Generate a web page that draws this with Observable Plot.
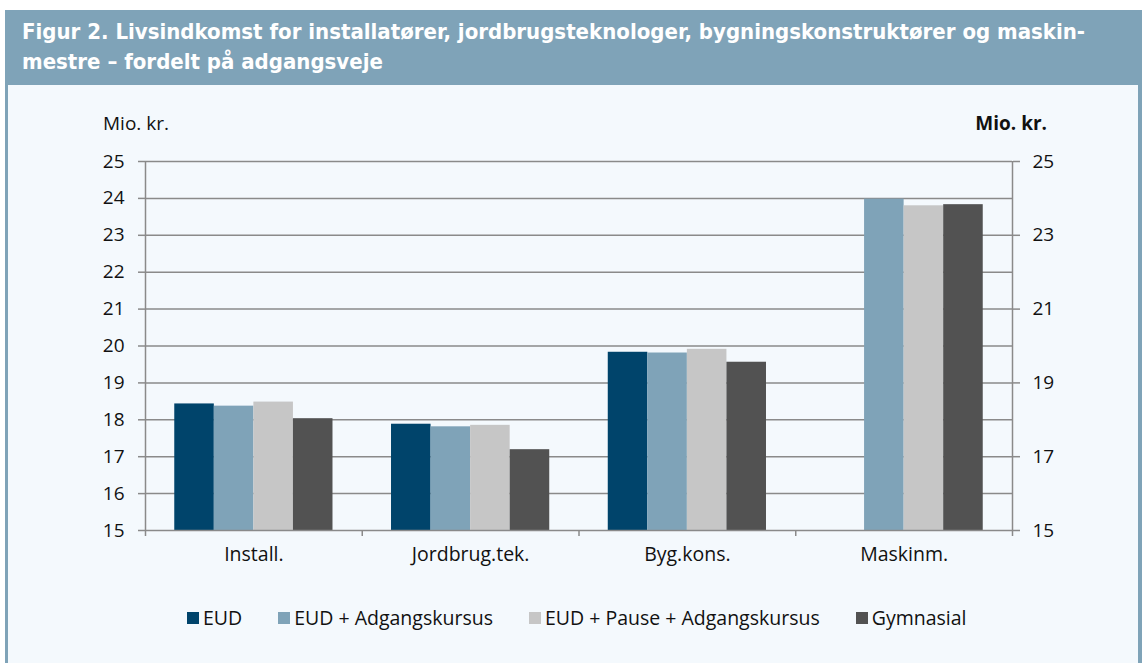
<!DOCTYPE html>
<html>
<head>
<meta charset="utf-8">
<script src="https://cdn.jsdelivr.net/npm/d3@7"></script>
<script src="https://cdn.jsdelivr.net/npm/@observablehq/plot@0.6"></script>
<style>
  html, body { margin: 0; padding: 0; background: #ffffff; }
  #page { position: relative; width: 1142px; height: 663px; overflow: hidden; font-family: "Open Sans", "Noto Sans", sans-serif; }
  #header { position: absolute; left: 5px; top: 10px; width: 1137px; height: 75px; background: #7fa3b8; }
  #title { position: absolute; left: 22px; top: 17px; color: #ffffff; font-family: "DejaVu Sans Condensed", sans-serif; font-stretch: condensed; font-weight: bold; font-size: 22px; line-height: 30px; white-space: nowrap; }
  #body { position: absolute; left: 5px; top: 85px; width: 1130px; height: 578px; background: #f4f9fd; border-left: 3px solid #7fa3b8; border-right: 4px solid #7fa3b8; }
  #chart { position: absolute; left: 0; top: 140px; }
  .ylab { position: absolute; top: 110px; font-size: 19px; color: #111; white-space: nowrap; }
  #legend { position: absolute; left: 187px; top: 604px; display: flex; gap: 36px; font-size: 19.5px; color: #111; white-space: nowrap; }
  .item { display: flex; align-items: center; }
  .sw { width: 12px; height: 12px; margin-right: 4px; }
</style>
</head>
<body>
<div id="page">
  <div id="header"></div>
  <div id="body"></div>
  <div id="title">Figur 2. Livsindkomst for installatører, jordbrugsteknologer, bygningskonstruktører og maskin-<br>mestre – fordelt på adgangsveje</div>
  <div class="ylab" style="left:103px;">Mio. kr.</div>
  <div class="ylab" style="right:95px; font-weight:bold;">Mio. kr.</div>
  <div id="chart"></div>
  <div id="legend"></div>
</div>
<script>
const categories = ["Install.", "Jordbrug.tek.", "Byg.kons.", "Maskinm."];
const series = ["EUD", "EUD + Adgangskursus", "EUD + Pause + Adgangskursus", "Gymnasial"];
const colors = ["#00446b", "#7fa3b8", "#c6c6c6", "#525252"];
const eud          = [18.43, 17.88, 19.83, null];
const eudAdg       = [18.37, 17.81, 19.81, 23.98];
const eudPauseAdg  = [18.48, 17.85, 19.91, 23.80];
const gymnasial    = [18.03, 17.19, 19.56, 23.83];
const yTicksLeft = [15, 16, 17, 18, 19, 20, 21, 22, 23, 24, 25];
const yTicksRight = [15, 17, 19, 21, 23, 25];

const values = [eud, eudAdg, eudPauseAdg, gymnasial];
const groupWidth = 0.73;
const barW = groupWidth / series.length;
const rows = [];
categories.forEach((c, i) => {
  series.forEach((s, j) => {
    const v = values[j][i];
    if (v == null) return;
    const x1 = i + (1 - groupWidth) / 2 + j * barW;
    rows.push({category: c, series: s, value: v, x1, x2: x1 + barW});
  });
});

const grey = "#8a8a8a";
const fs = 19;
const chart = Plot.plot({
  width: 1142,
  height: 435,
  marginLeft: 145,
  marginRight: 130,
  marginTop: 21,
  marginBottom: 45,
  style: {background: "transparent", fontFamily: "'Open Sans', 'Noto Sans', sans-serif", fontSize: fs + "px", color: "#111"},
  x: {type: "linear", domain: [0, categories.length], axis: null},
  y: {domain: [15, 25], axis: null},
  color: {domain: series, range: colors},
  marks: [
    Plot.gridY(yTicksLeft.slice(1), {stroke: grey, strokeOpacity: 1, strokeWidth: 1.5}),
    Plot.rectY(rows, {x1: "x1", x2: "x2", y1: 15, y2: "value", fill: "series"}),
    Plot.ruleY([15], {stroke: grey, strokeWidth: 1.5}),
    Plot.ruleX([0, categories.length], {y1: 15, y2: 25, stroke: grey, strokeWidth: 1.5}),
    Plot.axisX({ticks: d3.range(0, categories.length + 1), tickSize: 6, tickFormat: () => "", label: null, stroke: grey, strokeWidth: 1.5, strokeOpacity: 1}),
    Plot.axisX({ticks: categories.map((c, i) => i + 0.5), tickSize: 0, tickPadding: 17, label: null, tickFormat: d => categories[Math.floor(d)], fontSize: 19.5, fill: "#111"}),
    Plot.axisY({anchor: "left", ticks: yTicksLeft, tickSize: 7, tickPadding: 14, label: null, stroke: grey, strokeWidth: 1.5, strokeOpacity: 1, fontSize: fs, fill: "#111"}),
    Plot.axisY({anchor: "right", ticks: yTicksRight, tickSize: 7, tickPadding: 13, label: null, stroke: grey, strokeWidth: 1.5, strokeOpacity: 1, fontSize: fs, fill: "#111"})
  ]
});
document.getElementById("chart").appendChild(chart);

const legend = document.getElementById("legend");
series.forEach((s, j) => {
  const it = document.createElement("div");
  it.className = "item";
  const sw = document.createElement("span");
  sw.className = "sw";
  sw.style.background = colors[j];
  const t = document.createElement("span");
  t.textContent = s;
  it.appendChild(sw);
  it.appendChild(t);
  legend.appendChild(it);
});
</script>
</body>
</html>
